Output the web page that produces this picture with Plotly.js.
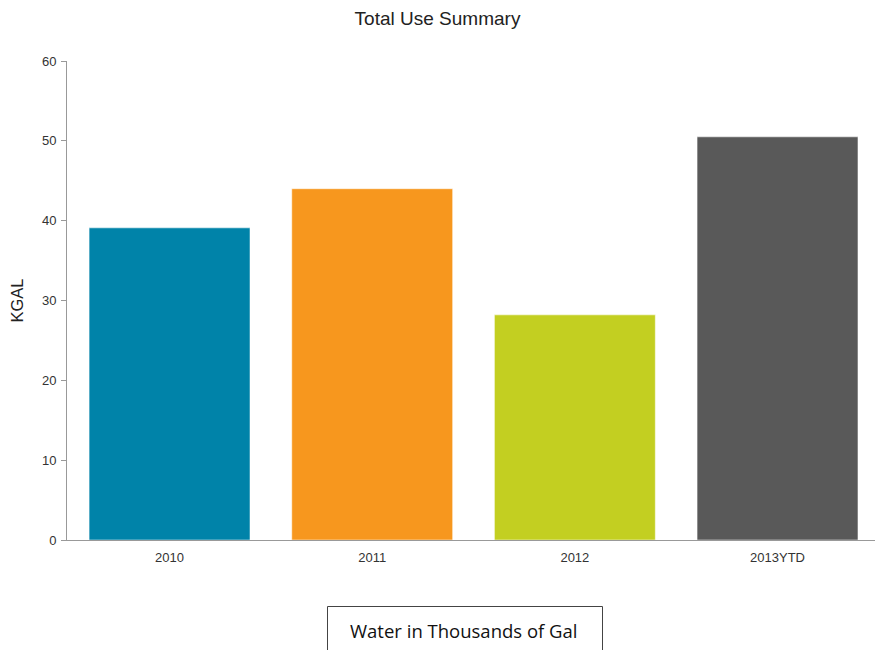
<!DOCTYPE html>
<html>
<head>
<meta charset="utf-8">
<script src="https://cdn.plot.ly/plotly-3.0.1.min.js"></script>
<style>html,body{margin:0;padding:0;background:#fff;}#chart{width:875px;height:650px;}</style>
</head>
<body>
<div id="chart"></div>
<script>
const categories = ["2010", "2011", "2012", "2013YTD"];
const values = [39.1, 44.0, 28.2, 50.5];
const barColors = ["#0083A9", "#F7971E", "#C3CF21", "#595959"];
const yTicks = [0, 10, 20, 30, 40, 50, 60];
const chartTitle = "Total Use Summary";
const yTitle = "KGAL";
const noteText = "Water in Thousands of Gal";

const W = 875, H = 650;
const margin = {l: 67, r: 0, t: 61, b: 110};
const pw = W - margin.l - margin.r, ph = H - margin.t - margin.b;
const px = x => (x - margin.l) / pw;
const py = y => (H - margin.b - y) / ph;

const trace = {
  type: 'bar',
  x: categories,
  y: values,
  marker: {color: barColors, line: {color: 'rgba(255,255,255,0.5)', width: 1}},
  hoverinfo: 'x+y'
};

const layout = {
  width: W, height: H,
  margin: margin,
  paper_bgcolor: '#fff', plot_bgcolor: '#fff',
  font: {family: 'Liberation Sans, Arial, sans-serif', color: '#333', size: 13},
  title: {text: chartTitle, x: 0.5, xref: 'container', xanchor: 'center', y: 1 - 18/H, yref: 'container', yanchor: 'middle',
          font: {size: 19, color: '#222', family: 'Liberation Sans, Arial, sans-serif'}},
  bargap: 0.206,
  showlegend: false,
  xaxis: {
    type: 'category', range: [-0.506, 3.481],
    showline: true, linecolor: '#999', linewidth: 1,
    ticks: '', showgrid: false, zeroline: false,
    tickfont: {size: 13, color: '#333'}, ticklabelstandoff: 5
  },
  yaxis: {
    range: [0, 60], tickvals: yTicks, ticktext: yTicks.map(String),
    showline: true, linecolor: '#999', linewidth: 1,
    ticks: 'outside', ticklen: 5, tickcolor: '#999',
    showgrid: false, zeroline: false,
    tickfont: {size: 13, color: '#333'}, ticklabelstandoff: 2,
    title: {text: yTitle, font: {size: 16.5, color: '#222'}, standoff: 14}
  },
  shapes: [{type: 'rect', xref: 'paper', yref: 'paper', x0: px(327.5), x1: px(602.5), y0: py(606.5), y1: py(680),
            line: {color: '#444', width: 1}, fillcolor: 'rgba(0,0,0,0)'}],
  annotations: [{text: noteText, xref: 'paper', yref: 'paper', x: px(463), y: py(630), xanchor: 'center', yanchor: 'middle',
                 showarrow: false, font: {family: 'Open Sans, Noto Sans, sans-serif', size: 18.5, color: '#111'}}]
};

Plotly.newPlot('chart', [trace], layout, {displayModeBar: false, responsive: false});
</script>
</body>
</html>
